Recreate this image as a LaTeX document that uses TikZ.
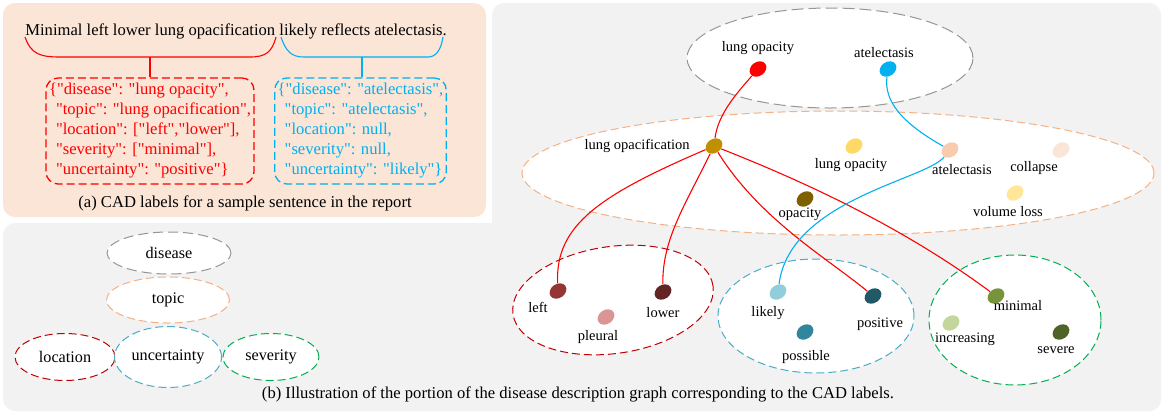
\documentclass[tikz,border=0pt]{standalone}
\usepackage{fontspec}
\setmainfont{Liberation Serif}[Ligatures=TeXOff]
\usetikzlibrary{shapes.geometric}

\definecolor{panelpeach}{HTML}{FBE5D6}
\definecolor{panelgray}{HTML}{F2F2F2}
\definecolor{cadblue}{HTML}{00B0F0}
\definecolor{diseasegray}{HTML}{969696}
\definecolor{topicorange}{HTML}{F4B183}
\definecolor{locred}{HTML}{C00000}
\definecolor{uncblue}{HTML}{4BACC6}
\definecolor{sevgreen}{HTML}{00B050}
\newcommand{\jind}{\hspace*{3.5pt}}

\begin{document}
\begin{tikzpicture}[x=0.5pt,y=-0.5pt,
  cad box/.style={draw,rounded corners=6pt,line width=0.65pt,dash pattern=on 4pt off 2pt,
    align=left,inner sep=1.5pt,minimum height=53pt,font=\fontsize{8.3}{10}\selectfont},
  plain text/.style={font=\fontsize{8.3}{10}\selectfont,inner sep=0pt},
  set ring/.style={ellipse,fill=white,line width=0.5pt,dash pattern=on 4pt off 2pt,inner sep=0pt},
  key ring/.style={set ring,font=\fontsize{8.1}{10}\selectfont},
  dot node/.style={ellipse,minimum width=9pt,minimum height=7pt,inner sep=0pt,rotate=35},
  dot label/.style={font=\fontsize{7.25}{8}\selectfont,inner sep=0pt},
  red line/.style={draw=red,line width=0.55pt},
  blue line/.style={draw=cadblue,line width=0.55pt}]

\useasboundingbox (0,0) rectangle (1164,414);

% panels
\fill[panelgray,rounded corners=6pt] (492,3) rectangle (1161,411);
\fill[panelgray,rounded corners=6pt] (3,223) rectangle (1161,411);
\fill[panelpeach,rounded corners=6pt] (3,3) rectangle (486,217);

% (a) sentence and CAD labels
\node[plain text] (sent) at (236,31) {Minimal left lower lung opacification likely reflects atelectasis.};
\coordinate (rbrace) at (150,57);
\coordinate (bbrace) at (362,57);
\draw[red line] (25,37) .. controls (31,54) and (40,57) .. (60,57) -- (250,57)
  .. controls (266,57) and (272,52) .. (276,37);
\draw[blue line] (281,37) .. controls (286,52) and (292,57) .. (304,57) -- (428,57)
  .. controls (436,57) and (441,50) .. (443,37);

\node[cad box,red,minimum width=103pt] (redcad) at (150,131)
  {\{"disease": "lung opacity",\\\jind"topic": "lung opacification",\\\jind"location": ["left","lower"],\\\jind"severity": ["minimal"],\\\jind"uncertainty": "positive"\}};
\node[cad box,cadblue,minimum width=85.5pt] (bluecad) at (360.5,131)
  {\{"disease": "atelectasis",\\\jind"topic": "atelectasis",\\\jind"location": null,\\\jind"severity": null,\\\jind"uncertainty": "likely"\}};
\draw[red line] (rbrace) -- (rbrace |- redcad.north);
\draw[blue line] (bbrace) -- (bbrace |- bluecad.north);

\node[plain text] (capa) at (245,203) {(a) CAD labels for a sample sentence in the report};

% (b) legend
\node[key ring,draw=diseasegray,dash pattern=on 5pt off 2.5pt,minimum width=62pt,minimum height=21pt] (kdisease) at (169,253) {disease};
\node[key ring,draw=topicorange,minimum width=61.5pt,minimum height=23pt] (ktopic) at (168,300) {topic};
\node[key ring,draw=locred,minimum width=50pt,minimum height=23.5pt] (klocation) at (65,357) {location};
\node[key ring,draw=sevgreen,minimum width=48pt,minimum height=23.5pt] (kseverity) at (271,357) {severity};
\node[key ring,draw=uncblue,minimum width=53.5pt,minimum height=30.5pt] (kuncertainty) at (168,357) {uncertainty};

% (b) graph sets
\node[set ring,draw=diseasegray,dash pattern=on 6pt off 2.5pt,minimum width=143pt,minimum height=50pt] (sdisease) at (830,58) {};
\node[set ring,draw=topicorange,minimum width=316pt,minimum height=62pt] (stopic) at (838,173) {};
\node[set ring,draw=locred,minimum width=101pt,minimum height=53.5pt,rotate=8] (slocation) at (613,300) {};
\node[set ring,draw=uncblue,minimum width=98pt,minimum height=57pt] (suncertainty) at (816,316) {};
\node[set ring,draw=sevgreen,minimum width=86pt,minimum height=65pt] (sseverity) at (1015,320) {};

% dots
\node[dot node,fill=red] (dlopa) at (758,69) {};
\node[dot node,fill=cadblue] (datel) at (888,69) {};
\node[dot node,fill={rgb,255:red,191;green,144;blue,0}] (tlopf) at (714,146) {};
\node[dot node,fill={rgb,255:red,255;green,217;blue,102}] (tlopa) at (854,146) {};
\node[dot node,fill={rgb,255:red,248;green,203;blue,173}] (tatel) at (950,150) {};
\node[dot node,fill={rgb,255:red,251;green,229;blue,214}] (tcollapse) at (1061,150) {};
\node[dot node,fill={rgb,255:red,127;green,96;blue,0}] (topac) at (805,199) {};
\node[dot node,fill={rgb,255:red,255;green,230;blue,153}] (tvolloss) at (1015,193) {};
\node[dot node,fill={rgb,255:red,148;green,54;blue,52}] (lleft) at (558,291) {};
\node[dot node,fill={rgb,255:red,217;green,150;blue,148}] (lpleural) at (606,317) {};
\node[dot node,fill={rgb,255:red,99;green,37;blue,35}] (llower) at (663,292) {};
\node[dot node,fill={rgb,255:red,146;green,205;blue,220}] (ulikely) at (778,292) {};
\node[dot node,fill={rgb,255:red,49;green,133;blue,156}] (upossible) at (805,332) {};
\node[dot node,fill={rgb,255:red,33;green,89;blue,104}] (upositive) at (873,296) {};
\node[dot node,fill={rgb,255:red,119;green,147;blue,60}] (sminimal) at (996,296) {};
\node[dot node,fill={rgb,255:red,195;green,214;blue,155}] (sincreasing) at (951,323) {};
\node[dot node,fill={rgb,255:red,79;green,98;blue,40}] (ssevere) at (1061,332) {};

% labels
\node[dot label] (dlopa-l) at (758,48) {lung opacity};
\node[dot label] (datel-l) at (884,53) {atelectasis};
\node[dot label,anchor=east] (tlopf-l) at (690,146) {lung opacification};
\node[dot label] (tlopa-l) at (851,165) {lung opacity};
\node[dot label] (tatel-l) at (962,170) {atelectasis};
\node[dot label] (tcollapse-l) at (1034,168) {collapse};
\node[dot label] (topac-l) at (800,214) {opacity};
\node[dot label] (tvolloss-l) at (1008,212) {volume loss};
\node[dot label] (lleft-l) at (538,307) {left};
\node[dot label] (lpleural-l) at (598,337) {pleural};
\node[dot label] (llower-l) at (663,313) {lower};
\node[dot label] (ulikely-l) at (768,313) {likely};
\node[dot label] (upossible-l) at (806,357) {possible};
\node[dot label] (upositive-l) at (880,324) {positive};
\node[dot label] (sminimal-l) at (1018,306) {minimal};
\node[dot label] (sincreasing-l) at (965,339) {increasing};
\node[dot label] (ssevere-l) at (1056,350) {severe};

% links
\draw[red line] (dlopa) .. controls (735,95) and (718,115) .. (tlopf);
\draw[blue line] (datel) .. controls (884,100) and (900,122) .. (tatel);
\draw[red line] (tlopf) .. controls (600,195) and (555,225) .. (lleft);
\draw[red line] (tlopf) .. controls (685,205) and (662,240) .. (llower);
\draw[red line] (tlopf) .. controls (760,220) and (830,260) .. (upositive);
\draw[red line] (tlopf) .. controls (800,180) and (900,225) .. (sminimal);
\draw[blue line] (tatel) .. controls (925,180) and (790,200) .. (ulikely);

\node[plain text] (capb) at (578,394) {(b) Illustration of the portion of the disease description graph corresponding to the CAD labels.};
\end{tikzpicture}
\end{document}
